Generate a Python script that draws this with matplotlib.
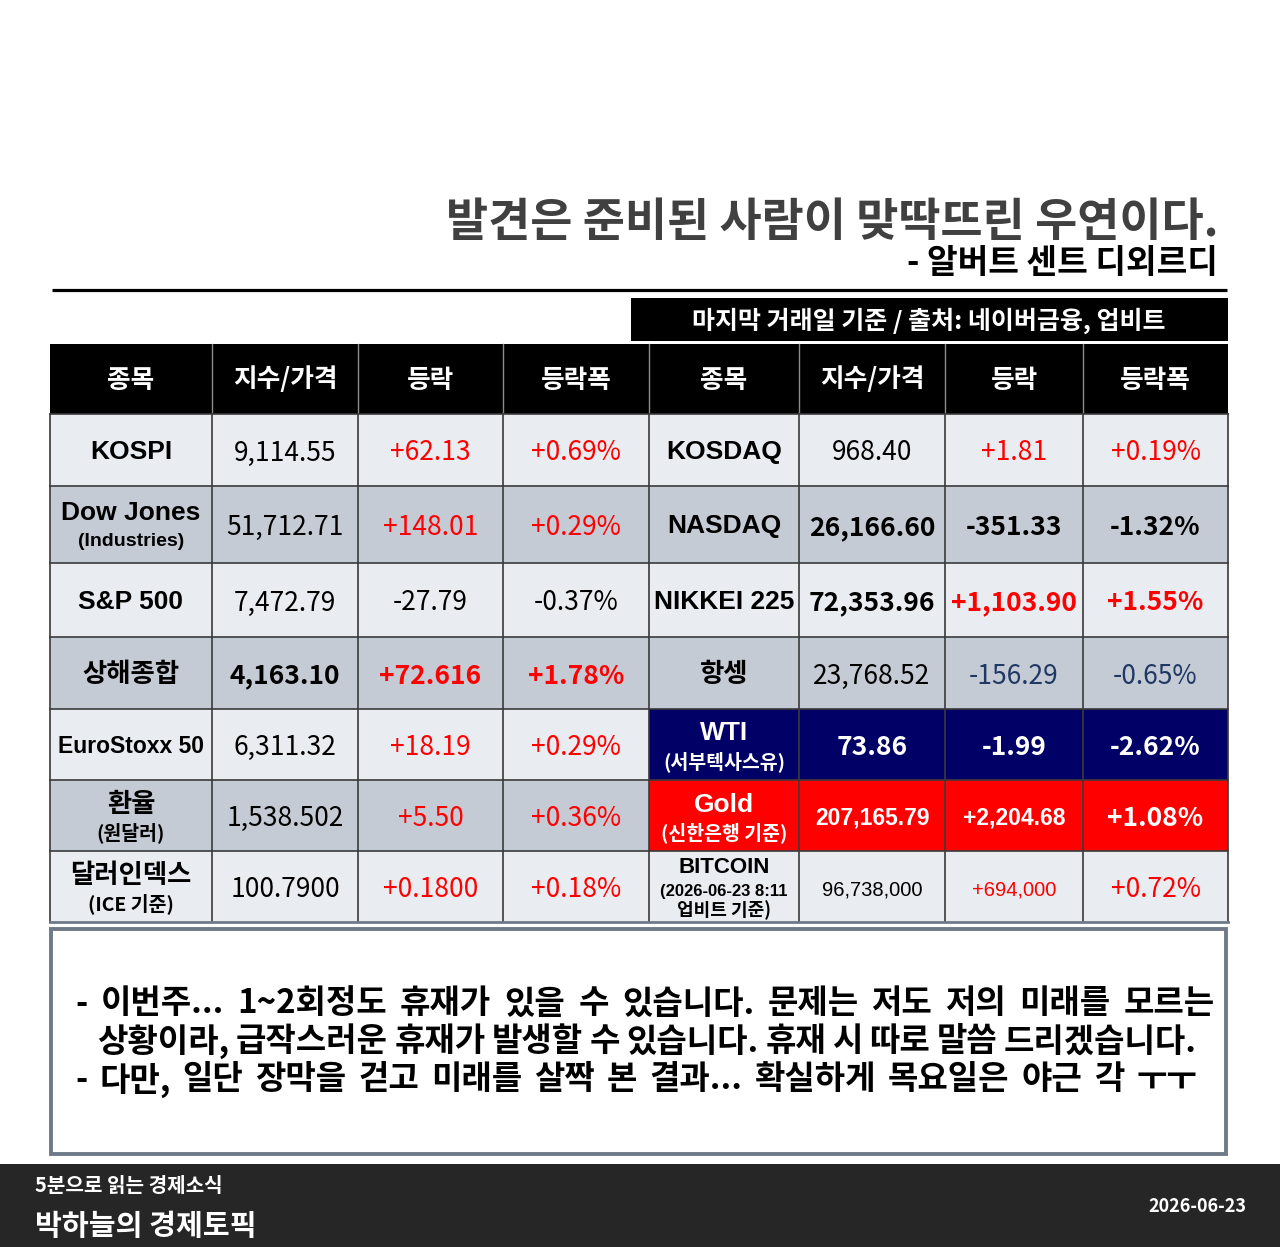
import matplotlib
matplotlib.use("Agg")
import matplotlib.pyplot as plt
from matplotlib.patches import Rectangle

plt.rcParams['font.family'] = ['Noto Sans CJK KR', 'DejaVu Sans']

# ---- data ----
title = "발견은 준비된 사람이 맞딱뜨린 우연이다."
author = "- 알버트 센트 디외르디"
source_note = "마지막 거래일 기준 / 출처: 네이버금융, 업비트"
headers = ["종목", "지수/가격", "등락", "등락폭"]

left_names = ["KOSPI", "Dow Jones", "S&P 500", "상해종합", "EuroStoxx 50", "환율", "달러인덱스"]
left_subs = ["", "(Industries)", "", "", "", "(원달러)", "(ICE 기준)"]
left_price = ["9,114.55", "51,712.71", "7,472.79", "4,163.10", "6,311.32", "1,538.502", "100.7900"]
left_chg = ["+62.13", "+148.01", "-27.79", "+72.616", "+18.19", "+5.50", "+0.1800"]
left_pct = ["+0.69%", "+0.29%", "-0.37%", "+1.78%", "+0.29%", "+0.36%", "+0.18%"]

right_names = ["KOSDAQ", "NASDAQ", "NIKKEI 225", "항셍", "WTI", "Gold", "BITCOIN"]
right_subs = ["", "", "", "", "(서부텍사스유)", "(신한은행 기준)", "(2026-06-23 8:11\n업비트 기준)"]
right_price = ["968.40", "26,166.60", "72,353.96", "23,768.52", "73.86", "207,165.79", "96,738,000"]
right_chg = ["+1.81", "-351.33", "+1,103.90", "-156.29", "-1.99", "+2,204.68", "+694,000"]
right_pct = ["+0.19%", "-1.32%", "+1.55%", "-0.65%", "-2.62%", "+1.08%", "+0.72%"]

memo_lines = [
    "- 이번주... 1~2회정도 휴재가 있을 수 있습니다. 문제는 저도 저의 미래를 모르는",
    "상황이라, 급작스러운 휴재가 발생할 수 있습니다. 휴재 시 따로 말씀 드리겠습니다.",
    "- 다만, 일단 장막을 걷고 미래를 살짝 본 결과... 확실하게 목요일은 야근 각 ㅜㅜ",
]
footer_small = "5분으로 읽는 경제소식"
footer_big = "박하늘의 경제토픽"
footer_date = "2026-06-23"

# ---- styles ----
RED = '#ff0000'
BLUE = '#1f3864'
LIGHT = '#e9ecf0'
DARK = '#c4cbd4'
NAVY = '#000066'
LATIN = ['Liberation Sans', 'Noto Sans CJK KR']
KR = ['Noto Sans CJK KR', 'DejaVu Sans']

col_x = [50, 212, 358, 503, 649, 799, 945, 1083, 1228]
row_y = [344, 414, 486, 563, 637, 709, 780, 851, 922]

left_bold = [False, False, False, True, False, False, False]
right_bold = [False, True, True, False, True, True, False]
right_fill = [None, None, None, None, NAVY, RED, None]
neg_color = {('L', 2): 'black', ('R', 1): 'black', ('R', 3): BLUE}

fig = plt.figure(figsize=(12.8, 12.47), dpi=100)
ax = fig.add_axes([0, 0, 1, 1])
ax.set_xlim(0, 1280)
ax.set_ylim(1247, 0)
ax.axis('off')
renderer = fig.canvas.get_renderer()

# title block
ax.text(1218, 223, title, ha='right', va='center', fontsize=33, weight='bold',
        color='#404040', family=KR)
ax.text(1218, 264, author, ha='right', va='center', fontsize=24, weight='bold',
        color='black', family=KR)
ax.plot([52, 1227], [290, 290], color='black', lw=2.3, solid_capstyle='butt')

ax.add_patch(Rectangle((631, 298), 597, 43, facecolor='black', edgecolor='none'))
ax.text(929, 321, source_note, ha='center', va='center', fontsize=18, weight='bold',
        color='white', family=KR)

# header row
ax.add_patch(Rectangle((col_x[0], row_y[0]), col_x[-1] - col_x[0], row_y[1] - row_y[0],
                       facecolor='black', edgecolor='none'))
for i in range(8):
    cx = (col_x[i] + col_x[i + 1]) / 2
    ax.text(cx, 380, headers[i % 4], ha='center', va='center', fontsize=18.5,
            weight='bold', color='white', family=KR)
for x in col_x[1:-1]:
    ax.plot([x, x], [row_y[0], row_y[1]], color='#8c8c8c', lw=1.0)


def value_color(val, side, r, fill):
    if fill is not None:
        return 'white'
    if val.startswith('+'):
        return RED
    return neg_color.get((side, r), 'black')


def draw_name(cx, y0, y1, name, sub, color, narrow=False):
    cy = (y0 + y1) / 2 + 1
    fam = LATIN if name.isascii() else KR
    size = 16.5 if narrow else 19
    if sub == "":
        ax.text(cx, cy + 1, name, ha='center', va='center', fontsize=size,
                weight='bold', color=color, family=fam)
    elif "\n" in sub:
        a, b = sub.split("\n")
        ax.text(cx, cy - 20, name, ha='center', va='center', fontsize=16,
                weight='bold', color=color, family=fam)
        ax.text(cx, cy + 4, a, ha='center', va='center', fontsize=12,
                weight='bold', color=color, family=LATIN)
        ax.text(cx, cy + 23, b, ha='center', va='center', fontsize=13,
                weight='bold', color=color, family=KR)
    else:
        ax.text(cx, cy - 12, name, ha='center', va='center', fontsize=19,
                weight='bold', color=color, family=fam)
        ax.text(cx, cy + 16, sub, ha='center', va='center', fontsize=14,
                weight='bold', color=color, family=LATIN if sub.isascii() else KR)


for r in range(7):
    y0, y1 = row_y[r + 1], row_y[r + 2]
    cy = (y0 + y1) / 2 + 3
    bg = LIGHT if r % 2 == 0 else DARK
    ax.add_patch(Rectangle((col_x[0], y0), col_x[4] - col_x[0], y1 - y0,
                           facecolor=bg, edgecolor='none'))
    fill = right_fill[r]
    ax.add_patch(Rectangle((col_x[4], y0), col_x[8] - col_x[4], y1 - y0,
                           facecolor=fill if fill else bg, edgecolor='none'))

    # left half
    draw_name((col_x[0] + col_x[1]) / 2, y0, y1, left_names[r], left_subs[r], 'black',
              narrow=(left_names[r] == "EuroStoxx 50"))
    lw_ = 'bold' if left_bold[r] else 'normal'
    for c, val in zip([1, 2, 3], [left_price[r], left_chg[r], left_pct[r]]):
        col = 'black' if c == 1 else value_color(val, 'L', r, None)
        ax.text((col_x[c] + col_x[c + 1]) / 2, cy, val, ha='center', va='center',
                fontsize=19, weight=lw_, color=col, family=KR)

    # right half
    ncol = 'white' if fill else 'black'
    draw_name((col_x[4] + col_x[5]) / 2, y0, y1, right_names[r], right_subs[r], ncol)
    rw = 'bold' if right_bold[r] else 'normal'
    for c, val in zip([5, 6, 7], [right_price[r], right_chg[r], right_pct[r]]):
        col = ncol if c == 5 else value_color(val, 'R', r, fill)
        fam, size = KR, 19
        if right_names[r] == "Gold" and c != 7:
            fam, size = LATIN, 16.5
        if right_names[r] == "BITCOIN" and c != 7:
            fam, size = LATIN, 14.5
        ax.text((col_x[c] + col_x[c + 1]) / 2, cy, val, ha='center', va='center',
                fontsize=size, weight=rw, color=col, family=fam)

# grid lines
for y in row_y[1:-1]:
    ax.plot([col_x[0], col_x[-1]], [y, y], color='#3a3a3a', lw=1.2)
for x in col_x:
    ax.plot([x, x], [row_y[1], row_y[-1]], color='#3a3a3a', lw=1.2)
ax.plot([col_x[0], col_x[-1]], [row_y[-1], row_y[-1]], color='#6f7a88', lw=2.0)

# memo box, lines justified between a left and right edge
ax.add_patch(Rectangle((51, 929), 1175, 225, facecolor='white', edgecolor='#6f7a88', lw=2.8))
memo_left = [75, 97, 75]
memo_right = [1215, 1197, 1197]
for i, line in enumerate(memo_lines):
    words = line.split(' ')
    y = 1004 + i * 38
    arts = [ax.text(0, y, w, ha='left', va='center', fontsize=23.8, weight='bold',
                    color='black', family=KR) for w in words]
    widths = [a.get_window_extent(renderer).width for a in arts]
    gap = (memo_right[i] - memo_left[i] - sum(widths)) / (len(words) - 1)
    x = memo_left[i]
    for a, w in zip(arts, widths):
        a.set_x(x)
        x += w + gap

# footer bar
ax.add_patch(Rectangle((0, 1164), 1280, 83, facecolor='#262626', edgecolor='none'))
ax.text(35, 1186, footer_small, ha='left', va='center', fontsize=14.5, weight='bold',
        color='white', family=KR)
ax.text(35, 1226, footer_big, ha='left', va='center', fontsize=21, weight='bold',
        color='white', family=KR)
ax.text(1246, 1207, footer_date, ha='right', va='center', fontsize=13, weight='bold',
        color='white', family=KR)

fig.savefig('out.png', dpi=100)
